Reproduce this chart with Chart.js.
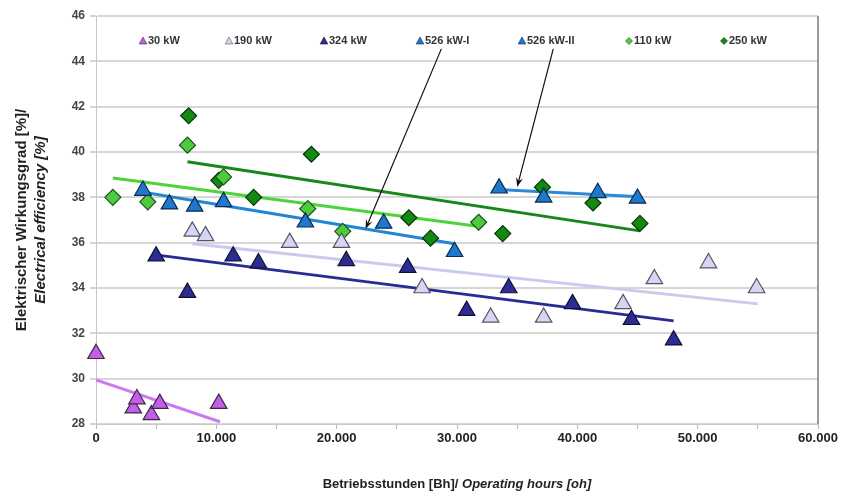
<!DOCTYPE html>
<html>
<head>
<meta charset="utf-8">
<script src="https://cdn.jsdelivr.net/npm/chart.js@4/dist/chart.umd.min.js"></script>
<style>
  html, body { margin: 0; padding: 0; background: #fff; }
</style>
</head>
<body>
<canvas id="chart" width="847" height="500"></canvas>
<script>
// --- data ---
const SERIES_NAMES = ['30 kW', '190 kW', '324 kW', '526 kW-I', '526 kW-II', '110 kW', '250 kW'];

const KW30 = [[0, 31.1], [3100, 28.7], [3400, 29.1], [4600, 28.4], [5300, 28.9], [10200, 28.9]];
const KW190 = [[8000, 36.5], [9100, 36.3], [16100, 36.0], [20400, 36.0], [27100, 34.0], [32800, 32.7],
               [37200, 32.7], [43800, 33.3], [46400, 34.4], [50900, 35.1], [54900, 34.0]];
const KW324 = [[5000, 35.4], [7600, 33.8], [11400, 35.4], [13500, 35.1], [20800, 35.2], [25900, 34.9],
               [30800, 33.0], [34300, 34.0], [39600, 33.3], [44500, 32.6], [48000, 31.7]];
const KW526_I = [[3900, 38.3], [6100, 37.7], [8200, 37.6], [10600, 37.8], [17400, 36.9], [23900, 36.85], [29800, 35.6]];
const KW526_II = [[33500, 38.4], [37200, 38.0], [41700, 38.2], [45000, 37.95]];
const KW110 = [[1400, 38.0], [4300, 37.8], [7600, 40.3], [10600, 38.9], [17600, 37.5], [20500, 36.5], [31800, 36.9]];
const KW250 = [[7700, 41.6], [10200, 38.75], [13100, 38.0], [17900, 39.9], [26000, 37.1], [27800, 36.2],
               [33800, 36.4], [37100, 38.45], [41300, 37.75], [45200, 36.85]];

// linear trend lines (start / end as drawn)
const TREND30 = [[0, 29.95], [10300, 28.1]];
const TREND190 = [[8000, 35.95], [55000, 33.3]];
const TREND324 = [[5100, 35.45], [48000, 32.55]];
const TREND526_I = [[4200, 38.2], [29800, 35.95]];
const TREND526_II = [[33800, 38.33], [45200, 38.03]];
const TREND110 = [[1400, 38.85], [31700, 36.72]];
const TREND250 = [[7600, 39.57], [45200, 36.52]];

// annotation arrows: [from, to]
const ARROWS = [
    [[28700, 44.55], [22400, 36.6]],
    [[38000, 44.55], [35000, 38.46]]
];

const Y_TICKS = [28, 30, 32, 34, 36, 38, 40, 42, 44, 46];
const X_LABELS = [0, 10000, 20000, 30000, 40000, 50000, 60000];

// --- styling ---
const FONT = '"Liberation Sans", Arial, sans-serif';
const STYLES = [
    { shape: 'triangle', fill: '#c25ee8', border: '#3a2a40', line: '#cc7af0' },
    { shape: 'triangle', fill: '#d6d6f2', border: '#555566', line: '#cacaee' },
    { shape: 'triangle', fill: '#2c2c94', border: '#101030', line: '#2a2a96' },
    { shape: 'triangle', fill: '#1e78cc', border: '#0c2a50', line: '#2186d6' },
    { shape: 'triangle', fill: '#1e78cc', border: '#0c2a50', line: '#2a8ad8' },
    { shape: 'rectRot', fill: '#4ccc3c', border: '#1f4f1a', line: '#4cd43a' },
    { shape: 'rectRot', fill: '#128a12', border: '#063306', line: '#17871a' }
];

function toXY(pts) {
    return pts.map(p => ({ x: p[0], y: p[1] }));
}

function fmtThousands(v) {
    return String(v).replace(/\B(?=(\d{3})+(?!\d))/g, '.');
}

function scatterSet(i, pts) {
    const s = STYLES[i];
    const r = s.shape === 'triangle' ? 9.5 : 8;
    return {
        label: SERIES_NAMES[i],
        data: toXY(pts),
        showLine: false,
        pointStyle: s.shape,
        pointRadius: r,
        pointHoverRadius: r,
        backgroundColor: s.fill,
        borderColor: s.border,
        borderWidth: 1.2,
        clip: false,
        order: 1
    };
}

function trendSet(i, pts) {
    return {
        label: SERIES_NAMES[i] + ' trend',
        data: toXY(pts),
        showLine: true,
        borderColor: STYLES[i].line,
        borderWidth: 3,
        pointRadius: 0,
        fill: false,
        tension: 0,
        order: 5
    };
}

const scatterData = [KW30, KW190, KW324, KW526_I, KW526_II, KW110, KW250];
const trendData = [TREND30, TREND190, TREND324, TREND526_I, TREND526_II, TREND110, TREND250];

const datasets = [];
trendData.forEach((t, i) => datasets.push(trendSet(i, t)));
scatterData.forEach((d, i) => datasets.push(scatterSet(i, d)));

// legend, titles, frame and arrows
const decorPlugin = {
    id: 'decor',
    afterDatasetsDraw(chart) {
        const ctx = chart.ctx;
        const xs = chart.scales.x;
        const ys = chart.scales.y;
        ctx.save();
        ctx.strokeStyle = '#111';
        ctx.fillStyle = '#111';
        ctx.lineWidth = 1.2;
        ARROWS.forEach(a => {
            const x1 = xs.getPixelForValue(a[0][0]);
            const y1 = ys.getPixelForValue(a[0][1]);
            const x2 = xs.getPixelForValue(a[1][0]);
            const y2 = ys.getPixelForValue(a[1][1]);
            const ang = Math.atan2(y2 - y1, x2 - x1);
            const len = 10;
            ctx.beginPath();
            ctx.moveTo(x1, y1);
            ctx.lineTo(x2 - Math.cos(ang) * 6, y2 - Math.sin(ang) * 6);
            ctx.stroke();
            ctx.beginPath();
            ctx.moveTo(x2, y2);
            ctx.lineTo(x2 - len * Math.cos(ang - 0.35), y2 - len * Math.sin(ang - 0.35));
            ctx.lineTo(x2 - len * 0.6 * Math.cos(ang), y2 - len * 0.6 * Math.sin(ang));
            ctx.lineTo(x2 - len * Math.cos(ang + 0.35), y2 - len * Math.sin(ang + 0.35));
            ctx.closePath();
            ctx.fill();
        });
        ctx.restore();
    },
    afterDraw(chart) {
        const ctx = chart.ctx;
        const area = chart.chartArea;
        ctx.save();

        // right frame edge
        ctx.strokeStyle = '#9a9a9a';
        ctx.lineWidth = 2;
        ctx.beginPath();
        ctx.moveTo(area.right, area.top);
        ctx.lineTo(area.right, area.bottom);
        ctx.stroke();

        // legend inside the plot
        const legendX = [143, 229, 324, 420, 522, 629, 724];
        const ly = 41;
        ctx.font = 'bold 11px ' + FONT;
        ctx.textBaseline = 'middle';
        ctx.textAlign = 'left';
        SERIES_NAMES.forEach((name, i) => {
            const s = STYLES[i];
            const mx = legendX[i];
            ctx.fillStyle = s.fill;
            ctx.strokeStyle = s.border;
            ctx.lineWidth = 0.6;
            ctx.beginPath();
            if (s.shape === 'triangle') {
                ctx.moveTo(mx, ly - 4);
                ctx.lineTo(mx + 3.8, ly + 3);
                ctx.lineTo(mx - 3.8, ly + 3);
            } else {
                ctx.moveTo(mx, ly - 3.5);
                ctx.lineTo(mx + 3.5, ly);
                ctx.lineTo(mx, ly + 3.5);
                ctx.lineTo(mx - 3.5, ly);
            }
            ctx.closePath();
            ctx.fill();
            ctx.stroke();
            ctx.fillStyle = '#333';
            ctx.fillText(name, mx + 5, ly);
        });

        // y axis title (two lines, second italic)
        const cy = (area.top + area.bottom) / 2;
        ctx.fillStyle = '#222';
        ctx.textAlign = 'center';
        ctx.textBaseline = 'middle';
        ctx.translate(22, cy);
        ctx.rotate(-Math.PI / 2);
        ctx.font = 'bold 15px ' + FONT;
        ctx.fillText('Elektrischer Wirkungsgrad [%]/', 0, 0);
        ctx.font = 'italic bold 15px ' + FONT;
        ctx.fillText('Electrical efficiency [%]', 0, 19);
        ctx.setTransform(1, 0, 0, 1, 0, 0);

        // x axis title
        const part1 = 'Betriebsstunden [Bh]/ ';
        const part2 = 'Operating hours [oh]';
        ctx.font = 'bold 13px ' + FONT;
        const w1 = ctx.measureText(part1).width;
        ctx.font = 'italic bold 13px ' + FONT;
        const w2 = ctx.measureText(part2).width;
        const cx = (area.left + area.right) / 2;
        const tx = cx - (w1 + w2) / 2;
        ctx.textAlign = 'left';
        ctx.font = 'bold 13px ' + FONT;
        ctx.fillText(part1, tx, 484);
        ctx.font = 'italic bold 13px ' + FONT;
        ctx.fillText(part2, tx + w1, 484);

        ctx.restore();
    }
};

const chart = new Chart(document.getElementById('chart'), {
    type: 'scatter',
    data: { datasets: datasets },
    plugins: [decorPlugin],
    options: {
        responsive: false,
        animation: false,
        devicePixelRatio: 1,
        layout: { padding: { left: 0, top: 16, right: 29, bottom: 0 } },
        plugins: {
            legend: { display: false },
            tooltip: { enabled: false }
        },
        scales: {
            x: {
                type: 'linear',
                min: 0,
                max: 60000,
                afterFit: s => { s.height = 76; },
                border: { display: true, color: '#c8c8c8', width: 1 },
                grid: { drawOnChartArea: false, drawTicks: true, tickLength: 5, color: '#b8b8b8' },
                ticks: {
                    stepSize: 5000,
                    autoSkip: false,
                    maxRotation: 0,
                    padding: 2,
                    color: '#222',
                    font: { family: FONT, size: 13, weight: 'bold' },
                    callback: v => X_LABELS.includes(v) ? fmtThousands(v) : ''
                }
            },
            y: {
                min: Y_TICKS[0],
                max: Y_TICKS[Y_TICKS.length - 1],
                afterFit: s => { s.width = 96; },
                afterBuildTicks: s => { s.ticks = Y_TICKS.map(v => ({ value: v })); },
                border: { display: true, color: '#c8c8c8', width: 1 },
                grid: { color: '#d6d6d6', lineWidth: 2, tickLength: 6 },
                ticks: {
                    padding: 5,
                    color: '#444',
                    font: { family: FONT, size: 12, weight: 'bold' }
                }
            }
        }
    }
});
</script>
</body>
</html>
